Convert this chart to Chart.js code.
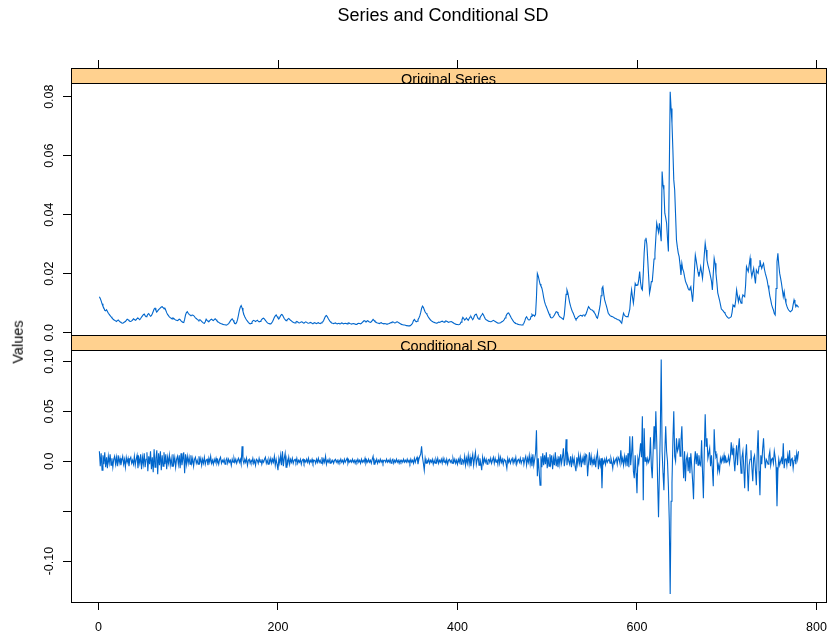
<!DOCTYPE html>
<html>
<head>
<meta charset="utf-8">
<script src="https://cdn.jsdelivr.net/npm/chart.js@4.4.1/dist/chart.umd.min.js"></script>
<style>
  body { margin: 0; background: #fff; }
  #wrap { position: relative; width: 829px; height: 638px; font-family: "Liberation Sans", Arial, sans-serif; color: #000; }
  #wrap canvas { position: absolute; left: 0; }
  #title { position: absolute; left: 443px; top: 6px; transform: translateX(-50%); font-size: 18px; line-height: 18px; white-space: nowrap; }
  #ylab { position: absolute; left: 18px; top: 342px; transform: translate(-50%, -50%) rotate(-90deg); font-size: 14.5px; line-height: 1; white-space: nowrap; }
</style>
</head>
<body>
<div id="wrap">
  <canvas id="topPanel" width="829" height="345" style="top:0"></canvas>
  <canvas id="bottomPanel" width="829" height="303" style="top:335px"></canvas>
  <div id="title">Series and Conditional SD</div>
  <div id="ylab">Values</div>
</div>
<script>
// tick positions / labels
const xTickValues = [0, 200, 400, 600, 800]
const xTickLabels = ['0', '200', '400', '600', '800']
const topTickValues = [0, 0.02, 0.04, 0.06, 0.08]
const topTickLabels = ['0.0', '0.02', '0.04', '0.06', '0.08']
const bottomTickValues = [-0.1, -0.05, 0, 0.05, 0.1]
const bottomTickLabels = ['-0.10', '', '0.0', '0.05', '0.10']
const panelNames = ['Original Series', 'Conditional SD']

// upper panel, obs 1..780
const originalSeries = [
  0.0122,0.0116,0.0108,0.0098,0.009,0.0084,0.0076,0.0074,0.0078,0.0072,
  0.0066,0.0062,0.0058,0.0054,0.005,0.0047,0.0044,0.0042,0.004,0.0038,
  0.0041,0.0043,0.004,0.0037,0.0035,0.0033,0.0032,0.0034,0.0036,0.0038,
  0.0042,0.0046,0.0044,0.0041,0.0039,0.0038,0.004,0.0043,0.0047,0.0045,
  0.0042,0.0044,0.0048,0.005,0.0047,0.0044,0.0048,0.0053,0.0057,0.0061,
  0.0063,0.0058,0.0054,0.0057,0.0062,0.0065,0.006,0.0056,0.0058,0.0064,
  0.0072,0.008,0.0083,0.0076,0.007,0.0074,0.0078,0.0081,0.0084,0.0087,
  0.0088,0.0085,0.0082,0.0083,0.0076,0.0068,0.0062,0.0058,0.0054,0.0051,
  0.0049,0.0047,0.005,0.0048,0.0045,0.0043,0.0042,0.0041,0.0043,0.0046,
  0.0044,0.004,0.0037,0.0035,0.0034,0.0045,0.006,0.0068,0.0071,0.0066,
  0.0062,0.006,0.0058,0.0059,0.006,0.0058,0.0055,0.005,0.0048,0.0045,
  0.0043,0.0041,0.0044,0.0042,0.0038,0.0035,0.0033,0.0032,0.0037,0.0046,
  0.0042,0.0039,0.0037,0.0041,0.0044,0.0046,0.0043,0.0041,0.0044,0.0047,
  0.0044,0.004,0.0037,0.0035,0.0033,0.0031,0.003,0.0029,0.0028,0.0027,
  0.0027,0.0026,0.0026,0.0028,0.0031,0.0035,0.004,0.0044,0.0047,0.0042,
  0.0036,0.0032,0.003,0.0035,0.0045,0.006,0.0076,0.0086,0.0092,0.0084,
  0.0072,0.0062,0.0054,0.0048,0.0043,0.0039,0.0035,0.0032,0.003,0.0031,
  0.0036,0.004,0.0042,0.004,0.0038,0.004,0.0042,0.0039,0.0037,0.0038,
  0.0041,0.0045,0.0048,0.0049,0.0046,0.0042,0.0038,0.0034,0.0032,0.0031,
  0.003,0.003,0.0033,0.0038,0.0045,0.0052,0.0057,0.006,0.0055,0.005,
  0.0047,0.0052,0.0058,0.0062,0.006,0.0054,0.0048,0.0044,0.0041,0.0043,
  0.0046,0.0048,0.0045,0.0042,0.004,0.0037,0.0035,0.0034,0.0033,0.0036,
  0.0038,0.0036,0.0034,0.0033,0.0035,0.0037,0.0036,0.0034,0.0033,0.0035,
  0.0037,0.0035,0.0033,0.0032,0.0033,0.0035,0.0034,0.0032,0.0031,0.0033,
  0.0034,0.0032,0.0031,0.0033,0.0034,0.0032,0.0031,0.0033,0.0035,0.0037,
  0.0042,0.005,0.0056,0.0058,0.0054,0.0048,0.0043,0.0038,0.0035,0.0033,
  0.0032,0.0031,0.0032,0.0033,0.0031,0.003,0.0031,0.0032,0.003,0.0031,
  0.0033,0.0032,0.003,0.0031,0.0032,0.0031,0.003,0.0032,0.0033,0.0031,
  0.003,0.0029,0.003,0.0031,0.003,0.0029,0.0028,0.0029,0.0031,0.0032,
  0.0031,0.003,0.0032,0.0035,0.0038,0.0041,0.004,0.0037,0.0039,0.0041,
  0.0038,0.0036,0.0035,0.0037,0.0041,0.0045,0.0042,0.0038,0.0036,0.0034,
  0.0033,0.0032,0.0031,0.0033,0.0034,0.0032,0.0031,0.003,0.0031,0.003,
  0.0029,0.0029,0.003,0.0031,0.0033,0.0034,0.0036,0.0037,0.0035,0.0033,
  0.0034,0.0036,0.0037,0.0035,0.0033,0.0031,0.0029,0.0028,0.0027,0.0026,
  0.0026,0.0025,0.0024,0.0024,0.0023,0.0023,0.0024,0.0025,0.0028,0.0033,
  0.0041,0.0045,0.004,0.0037,0.0039,0.0044,0.005,0.0057,0.0068,0.0082,
  0.009,0.0086,0.0078,0.007,0.0066,0.0062,0.0056,0.0051,0.0047,0.0043,
  0.004,0.0038,0.0036,0.0035,0.0034,0.0033,0.0032,0.0034,0.0036,0.0035,
  0.0036,0.0038,0.0039,0.0037,0.0036,0.0038,0.004,0.0039,0.0037,0.0035,
  0.0036,0.0037,0.0038,0.0036,0.0034,0.0032,0.003,0.0029,0.0028,0.0028,
  0.0027,0.0028,0.003,0.0036,0.0044,0.0052,0.0048,0.0043,0.0046,0.005,
  0.0045,0.0042,0.0048,0.0053,0.0055,0.0049,0.0044,0.005,0.0058,0.0062,
  0.0063,0.0055,0.0048,0.0046,0.005,0.0056,0.006,0.0065,0.006,0.0053,
  0.0047,0.0044,0.0042,0.004,0.0039,0.0038,0.0037,0.0038,0.004,0.0042,
  0.004,0.0038,0.0036,0.0034,0.0033,0.0032,0.0033,0.0034,0.0036,0.0038,
  0.004,0.0044,0.005,0.0056,0.0062,0.0066,0.0067,0.0062,0.0056,0.005,
  0.0045,0.004,0.0036,0.0033,0.0031,0.003,0.0029,0.0028,0.0027,0.0027,
  0.0026,0.0026,0.0028,0.0032,0.004,0.005,0.0054,0.0048,0.0044,0.0043,
  0.0045,0.0055,0.0062,0.0058,0.006,0.0056,0.0062,0.012,0.0201,0.0192,
  0.0178,0.0165,0.0158,0.0152,0.0138,0.012,0.0105,0.0095,0.0088,0.008,
  0.0072,0.0064,0.0057,0.0052,0.005,0.0051,0.0055,0.006,0.0066,0.0071,
  0.007,0.0065,0.0058,0.0054,0.0052,0.005,0.0047,0.0045,0.006,0.0095,
  0.013,0.0145,0.0135,0.0118,0.0102,0.009,0.008,0.0072,0.0066,0.0058,
  0.005,0.0045,0.0048,0.0052,0.0055,0.0057,0.0059,0.0058,0.0056,0.006,
  0.006,0.0058,0.0062,0.007,0.008,0.0088,0.0084,0.008,0.0078,0.0077,
  0.0074,0.007,0.0066,0.006,0.0052,0.0049,0.0062,0.0077,0.0095,0.0125,
  0.015,0.0156,0.013,0.0111,0.01,0.009,0.0078,0.0066,0.0062,0.0058,
  0.0056,0.0055,0.0054,0.0052,0.005,0.0048,0.0047,0.0045,0.0044,0.0043,
  0.004,0.0036,0.0032,0.005,0.0066,0.006,0.0056,0.0054,0.0055,0.0054,
  0.0054,0.008,0.012,0.0145,0.012,0.01,0.013,0.0167,0.016,0.0162,
  0.0162,0.018,0.0207,0.017,0.015,0.0145,0.02,0.027,0.0314,0.0322,
  0.03,0.0246,0.019,0.0134,0.015,0.0173,0.0173,0.021,0.025,0.0269,
  0.032,0.0371,0.0355,0.034,0.0371,0.034,0.031,0.0546,0.05,0.0484,
  0.0405,0.039,0.0371,0.032,0.0275,0.055,0.0817,0.076,0.071,0.062,
  0.0518,0.0484,0.04,0.0314,0.029,0.027,0.0258,0.023,0.0196,0.0235,
  0.0215,0.0207,0.019,0.0175,0.0167,0.016,0.015,0.0145,0.015,0.0156,
  0.013,0.0105,0.015,0.021,0.0263,0.0245,0.0224,0.0205,0.019,0.0205,
  0.0224,0.0205,0.0184,0.022,0.0265,0.0303,0.028,0.0246,0.023,0.0218,
  0.0205,0.019,0.0175,0.0145,0.02,0.0252,0.0235,0.0201,0.017,0.0135,
  0.0122,0.011,0.0095,0.008,0.0077,0.0074,0.007,0.0066,0.006,0.0055,
  0.0052,0.0049,0.005,0.0052,0.0054,0.007,0.0094,0.009,0.0088,0.011,
  0.0145,0.0125,0.0105,0.0122,0.011,0.01,0.0115,0.0128,0.0125,0.0122,
  0.016,0.0224,0.0215,0.0207,0.023,0.0252,0.021,0.019,0.0205,0.0218,
  0.019,0.0167,0.0212,0.0205,0.0201,0.0225,0.0246,0.023,0.0218,0.0228,
  0.0235,0.0215,0.0201,0.019,0.0178,0.016,0.0145,0.0125,0.0111,0.0095,
  0.0085,0.0077,0.0065,0.006,0.015,0.024,0.0269,0.023,0.0201,0.0185,
  0.0167,0.0145,0.0122,0.0139,0.0115,0.01,0.009,0.0082,0.0077,0.0073,
  0.0071,0.0074,0.0077,0.0095,0.0111,0.01,0.0088,0.0094,0.009,0.0086
]

// lower panel, obs 1..780
const conditionalSD = [
  0.01,-0.005,0.008,-0.009,0.006,-0.003,0.009,-0.006,0.004,-0.007,
  0.005,-0.002,0.007,-0.004,0.003,-0.006,0.002,0.005,-0.003,0.004,
  -0.005,0.006,-0.002,0.003,-0.004,0.001,0.005,-0.003,0.002,-0.006,
  0.004,-0.001,0.003,-0.005,0.002,0.004,-0.002,0.001,-0.003,0.005,
  -0.004,0.002,0.006,-0.007,0.003,-0.002,0.007,-0.008,0.004,-0.003,
  0.008,-0.006,0.002,0.009,-0.01,0.005,-0.003,0.01,-0.008,0.004,
  -0.011,0.012,-0.006,0.003,0.011,-0.013,0.008,-0.004,0.01,-0.009,
  0.006,-0.005,0.009,-0.003,0.007,-0.008,0.004,-0.002,0.006,-0.004,
  0.003,-0.005,0.007,-0.002,0.004,-0.006,0.002,0.005,-0.003,0.006,
  -0.007,0.008,-0.004,0.002,0.009,-0.012,0.007,-0.003,0.005,-0.002,
  0.004,-0.003,0.006,-0.002,0.003,-0.005,0.002,0.004,-0.002,0.001,
  -0.003,0.005,-0.001,0.003,-0.004,0.002,-0.002,0.004,-0.003,0.001,
  0.002,-0.004,0.003,-0.001,0.005,-0.002,0.001,-0.003,0.002,-0.001,
  0.003,-0.002,0.001,-0.003,0.002,0.004,-0.002,0.001,-0.001,0.002,
  -0.003,0.001,0.003,-0.002,0.002,-0.001,0.001,-0.004,0.002,-0.001,
  0.003,-0.001,0.002,-0.002,0.001,0.003,-0.001,0.002,-0.003,0.015,
  0.001,-0.002,0.002,-0.001,0.003,-0.004,0.001,0.002,-0.002,0.001,
  -0.001,0.003,-0.002,0.001,-0.004,0.002,0.001,-0.002,0.003,-0.001,
  0.002,-0.003,0.001,-0.001,0.002,0.004,-0.002,0.001,-0.003,0.002,
  -0.001,0.003,-0.002,0.002,-0.001,0.005,-0.004,0.002,-0.003,-0.009,
  0.003,-0.002,0.006,-0.004,0.01,-0.005,0.003,0.008,-0.006,0.002,
  -0.002,0.004,-0.003,0.002,-0.001,0.003,-0.002,0.001,0.002,-0.001,
  0.003,-0.002,0.001,-0.001,0.002,-0.003,0.001,0.002,-0.002,0.001,
  -0.001,0.002,-0.001,0.003,-0.002,0.001,-0.001,0.002,-0.002,0.001,
  0.001,-0.002,0.002,-0.001,0.003,-0.001,0.001,-0.002,0.004,-0.002,
  0.002,-0.001,0.005,-0.003,0.001,-0.001,0.002,-0.002,0.001,-0.001,
  0.001,-0.002,0.001,0.002,-0.001,0.001,-0.002,0.001,-0.001,0.002,
  -0.001,0.001,-0.002,0.002,-0.001,0.001,0.003,-0.002,0.001,-0.001,
  0.001,-0.001,0.002,-0.001,0.001,-0.002,0.001,-0.001,0.002,-0.001,
  0.001,-0.002,0.002,-0.001,0.001,-0.001,0.003,-0.002,0.001,-0.001,
  0.002,-0.001,0.001,-0.002,0.002,0.005,-0.003,0.001,-0.001,0.002,
  -0.002,0.001,-0.001,0.002,-0.001,0.001,-0.002,0.001,0.001,-0.001,
  0.002,-0.001,0.001,-0.001,0.002,-0.002,0.001,0.002,-0.002,0.001,
  -0.001,0.002,-0.001,0.001,-0.002,0.001,-0.001,0.001,-0.001,0.002,
  -0.001,0.001,-0.001,0.002,-0.001,0.001,-0.002,0.002,-0.001,0.001,
  -0.002,0.003,-0.001,0.002,0.004,-0.003,0.002,0.005,0.007,0.015,
  0.004,-0.002,-0.009,0.003,-0.002,0.001,-0.001,0.002,-0.002,0.001,
  -0.001,0.002,-0.003,0.001,-0.002,0.002,-0.001,0.003,-0.002,0.001,
  -0.001,0.002,-0.002,0.003,-0.001,0.001,-0.002,0.002,-0.003,0.001,
  0.002,-0.001,0.001,-0.002,0.003,-0.001,0.002,-0.002,0.001,-0.003,
  0.002,-0.001,0.004,-0.003,0.002,0.001,-0.002,0.005,-0.004,0.003,
  -0.002,0.006,-0.003,0.004,-0.005,0.002,0.007,-0.004,0.003,0.009,
  -0.003,0.002,0.005,-0.004,0.003,-0.002,-0.009,0.004,-0.002,0.003,
  -0.001,0.002,-0.003,0.001,0.002,-0.001,0.003,-0.002,0.001,0.004,
  -0.002,0.003,-0.001,0.002,-0.003,0.005,-0.002,0.004,-0.001,0.002,
  -0.003,0.002,0.001,-0.002,-0.007,0.003,-0.001,0.002,-0.002,0.001,
  0.003,-0.002,0.002,-0.001,0.004,-0.003,0.001,0.002,-0.001,0.003,
  -0.002,0.001,0.004,-0.003,0.002,0.005,-0.004,0.003,-0.001,0.006,
  -0.003,0.004,-0.005,0.007,-0.004,0.002,0.008,0.031,-0.015,0.003,
  -0.01,-0.024,0.005,-0.006,0.008,-0.004,0.006,-0.003,0.009,-0.007,
  0.004,-0.005,0.007,-0.002,0.006,-0.008,0.003,-0.004,0.009,-0.005,
  0.002,-0.006,0.005,-0.003,0.007,-0.002,0.004,0.013,-0.005,0.002,
  0.022,-0.004,0.006,0,-0.003,0.005,-0.006,0.004,-0.002,0.003,
  -0.005,-0.01,0.004,-0.003,0.006,-0.002,0.005,-0.006,0.003,-0.001,
  0.005,-0.004,0.007,0.006,-0.015,-0.002,0.009,-0.004,0.005,-0.003,
  0.002,-0.004,0.003,-0.006,0.004,0.009,-0.008,0.002,-0.004,0.003,
  -0.027,0.001,-0.002,0.002,-0.003,0.003,-0.001,0.001,0.002,-0.002,
  0.003,-0.001,-0.007,0.002,-0.002,0.001,0.003,-0.003,0.004,0.002,
  -0.002,0.011,-0.001,0.003,-0.004,0.005,-0.002,0.006,-0.005,0.008,
  -0.006,0.025,-0.004,0.008,0.025,-0.01,-0.017,0.006,-0.012,-0.032,
  0.003,-0.002,0.008,0.018,0.004,0.045,-0.039,0.033,0,0.004,
  -0.002,0.003,-0.001,0.002,0.024,-0.005,-0.017,0.01,0.035,0.012,
  0.05,0.02,-0.02,-0.056,-0.01,0.03,0.102,0.01,-0.012,-0.029,
  0.008,0.035,0.01,0,-0.025,-0.06,-0.133,-0.04,-0.022,0.02,
  0.05,0.005,0,0.023,0.01,0.013,0.023,0.005,0.02,0.035,
  0.006,-0.017,0.01,-0.02,0.002,0.006,-0.01,0.004,-0.012,0.008,
  -0.005,-0.02,-0.038,0,0.01,-0.003,0.008,-0.004,0.006,-0.002,
  -0.004,0.021,-0.01,-0.037,0.01,0.047,0.015,0.023,0.003,0.008,
  0.013,-0.005,0.006,-0.008,-0.025,0.032,0.01,0.004,0.006,-0.01,
  -0.004,-0.01,0.003,-0.001,0.004,0,0.006,-0.002,0.003,-0.001,
  0,0.005,-0.002,0.004,0.019,0.006,0.013,0.002,-0.01,0.005,
  0.016,-0.004,0.013,0.023,0.003,-0.012,0.004,0.01,-0.006,-0.027,
  0.005,0.017,-0.008,-0.03,-0.004,0.002,0.011,-0.006,-0.02,0.003,
  0.006,-0.009,-0.024,0.01,0.031,-0.01,-0.034,0.006,-0.003,0.012,
  0.023,0.004,-0.007,0.002,0,-0.003,0.005,0.01,-0.004,0.002,
  0.003,-0.002,0.01,0.004,-0.006,-0.045,-0.01,0.002,-0.004,0,
  0.003,-0.003,0.018,-0.007,0.002,0.003,-0.004,0.006,-0.002,0.011,
  -0.005,0.002,0.003,-0.007,0.001,0.006,-0.003,0.008,0.002,0.01
]

const LINE_COLOR = '#0066cc'
const STRIP_COLOR = '#ffd18f'
const STRIP_H = 15
const tickFont = { family: '"Liberation Sans", Arial, sans-serif', size: 12.5 }

Chart.defaults.font.family = '"Liberation Sans", Arial, sans-serif'

// lattice-like strip above the panel + frame, optional ticks over the strip
function stripPlugin(label, topTicks) {
  return {
    id: 'latticeStrip',
    afterDraw(chart) {
      const { ctx, chartArea: a } = chart
      const w = a.right - a.left
      const sTop = a.top - STRIP_H
      ctx.save()
      ctx.fillStyle = STRIP_COLOR
      ctx.fillRect(a.left, sTop, w, STRIP_H)

      ctx.save()
      ctx.beginPath()
      ctx.rect(a.left, sTop, w, STRIP_H)
      ctx.clip()
      ctx.fillStyle = '#000'
      ctx.font = '14.5px "Liberation Sans", Arial, sans-serif'
      ctx.textAlign = 'center'
      ctx.textBaseline = 'alphabetic'
      ctx.fillText(label, (a.left + a.right) / 2, a.top + 1)
      ctx.restore()

      ctx.strokeStyle = '#000'
      ctx.lineWidth = 1
      ctx.strokeRect(a.left + 0.5, sTop + 0.5, w, STRIP_H)
      ctx.strokeRect(a.left + 0.5, a.top + 0.5, w, a.bottom - a.top)

      if (topTicks) {
        const xs = chart.scales.x
        ctx.beginPath()
        xTickValues.forEach((v) => {
          const px = Math.round(xs.getPixelForValue(v)) + 0.5
          ctx.moveTo(px, sTop - 8)
          ctx.lineTo(px, sTop)
        })
        ctx.stroke()
      }
      ctx.restore()
    }
  }
}

function zeroPad(scale) {
  scale.paddingLeft = 0
  scale.paddingRight = 0
  scale.paddingTop = 0
  scale.paddingBottom = 0
}

function makePanel(canvasId, values, yMin, yMax, yTicks, yLabels, label, isBottom) {
  const canvas = document.getElementById(canvasId)
  const points = values.map((v, i) => ({ x: i + 1, y: v }))

  return new Chart(canvas, {
    type: 'line',
    data: {
      datasets: [{
        data: points,
        borderColor: LINE_COLOR,
        borderWidth: 1.1,
        pointRadius: 0,
        tension: 0,
        fill: false
      }]
    },
    options: {
      responsive: false,
      animation: false,
      events: [],
      layout: { padding: { left: 0, right: 3, top: isBottom ? STRIP_H : 68 + STRIP_H, bottom: isBottom ? 0 : 10 } },
      plugins: { legend: { display: false }, tooltip: { enabled: false } },
      scales: {
        x: {
          type: 'linear',
          min: -30.6,
          max: 810.6,
          afterBuildTicks: (s) => { s.ticks = xTickValues.map((v) => ({ value: v })) },
          afterFit: (s) => { s.height = isBottom ? 36 : 0; zeroPad(s) },
          border: { display: false },
          grid: { display: isBottom, drawOnChartArea: false, tickLength: 8, color: '#000' },
          ticks: {
            display: isBottom,
            autoSkip: false,
            maxRotation: 0,
            padding: 10,
            color: '#000',
            font: tickFont,
            callback: (v) => xTickLabels[xTickValues.indexOf(v)]
          }
        },
        y: {
          min: yMin,
          max: yMax,
          afterBuildTicks: (s) => { s.ticks = yTicks.map((v) => ({ value: v })) },
          afterFit: (s) => { s.width = 71; zeroPad(s) },
          border: { display: false },
          grid: { drawOnChartArea: false, tickLength: 8, color: '#000' },
          ticks: {
            autoSkip: false,
            minRotation: 90,
            maxRotation: 90,
            crossAlign: 'center',
            padding: isBottom ? -1 : 1,
            color: '#000',
            font: tickFont,
            callback: (v) => yLabels[yTicks.indexOf(v)]
          }
        }
      }
    },
    plugins: [stripPlugin(label, !isBottom)]
  })
}

makePanel('topPanel', originalSeries, -0.00078, 0.08464, topTickValues, topTickLabels, panelNames[0], false)
makePanel('bottomPanel', conditionalSD, -0.141, 0.1115, bottomTickValues, bottomTickLabels, panelNames[1], true)
</script>
</body>
</html>
